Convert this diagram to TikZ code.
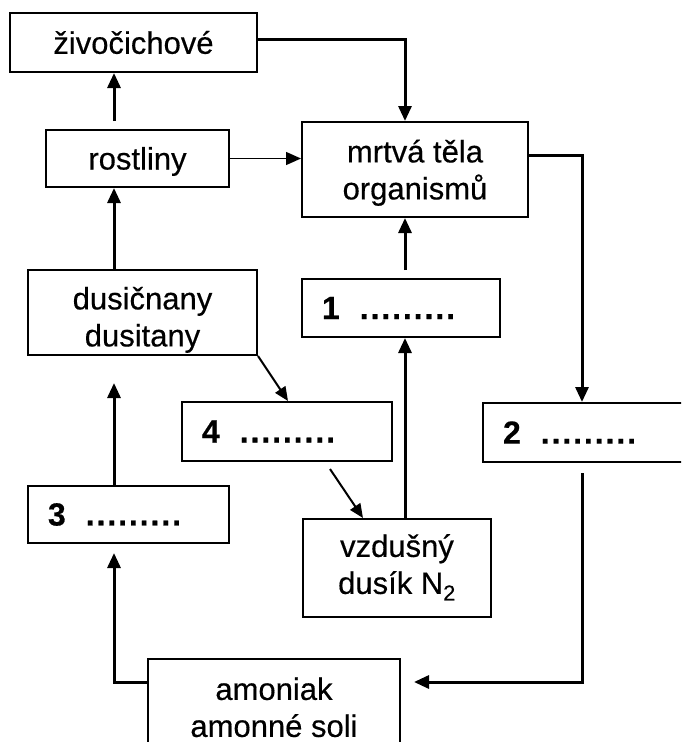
\documentclass[tikz,border=0pt]{standalone}
\usepackage{fontspec}
\setmainfont{Liberation Sans}[FakeBold=0.4]
\usetikzlibrary{arrows.meta,calc}
\newcommand{\blankdots}{.\kern1.9pt.\kern1.9pt.\kern1.9pt.\kern1.9pt.\kern1.9pt.\kern1.9pt.\kern1.9pt.\kern1.9pt.}
\newcommand{\twolines}[3]{\raisebox{#1}[\height][\depth]{\begin{tabular}{@{}c@{}}#2\\#3\end{tabular}}}
\begin{document}
\begin{tikzpicture}[x=1pt,y=-1pt,
  box/.style={draw,line width=2pt,rectangle,inner sep=0pt,align=center,
    font=\fontsize{31}{37}\selectfont},
  numbox/.style={draw,line width=2pt,rectangle,inner ysep=0pt,inner xsep=20pt,align=left,
    font=\fontsize{32}{37}\selectfont\bfseries},
  conn/.style={line width=3pt,-{Triangle[length=15pt,width=13pt]}},
  thinconn/.style={line width=1.4pt,-{Triangle[length=15pt,width=13pt]}},
  diag/.style={line width=2pt,-{Triangle[length=14pt,width=12pt]}},
]
\useasboundingbox (0,0) rectangle (681,742);
\clip (0,0) rectangle (681,742);
\fill[white] (0,0) rectangle (681,742);

% boxes
\node[box,minimum width=247pt,minimum height=59pt] (ziv) at (133.5,42.5) {živočichové};
\node[box,minimum width=183pt,minimum height=57pt] (rost) at (137.5,158.5) {\raisebox{-3pt}[\height][\depth]{rostliny}};
\node[box,minimum width=226pt,minimum height=95pt] (mrtva) at (415,169.5) {\twolines{-4pt}{mrtvá těla}{organismů}};
\node[box,minimum width=229pt,minimum height=85pt] (dus) at (142.5,312.5) {\twolines{-8pt}{dusičnany}{dusitany}};
\node[numbox,text width=158pt,minimum height=58pt] (one) at (401,308) {1\hspace{20pt}\blankdots};
\node[numbox,text width=170pt,minimum height=59pt] (four) at (287,431.5) {4\hspace{20pt}\blankdots};
\node[numbox,text width=180pt,minimum height=59pt] (two) at (593,432.5) {2\hspace{20pt}\blankdots};
\node[numbox,text width=161pt,minimum height=57pt] (three) at (128.5,514.5) {3\hspace{20pt}\blankdots};
\node[box,minimum width=188pt,minimum height=98pt] (vzd) at (397,568) {\twolines{0pt}{vzdušný}{dusík N\textsubscript{2}}};
\node[box,minimum width=252pt,minimum height=104pt] (amon) at (274,711) {\twolines{0pt}{amoniak}{amonné soli}};

% guide coordinates
\coordinate (colL) at (114,0);
\coordinate (colM) at (405,0);
\coordinate (colR) at (582,0);
\coordinate (rowT) at (0,39);
\coordinate (rowM) at (0,155);
\coordinate (rowB) at (0,682);

% connectors
\draw[conn] (ziv.east |- rowT) -| (mrtva.north -| colM);
\draw[conn,shorten <=8pt] (rost.north -| colL) -- (ziv.south -| colL);
\draw[thinconn] (rost.east) -- (rost.east -| mrtva.west);
\draw[conn] (dus.north -| colL) -- (rost.south -| colL);
\draw[conn] (mrtva.east |- rowM) -| (two.north -| colR);
\draw[conn,shorten <=8pt] (one.north -| colM) -- (mrtva.south -| colM);
\draw[conn] (vzd.north -| colM) -- (one.south -| colM);
\draw[diag] (dus.south east) -- ([xshift=1pt]four.north);
\draw[diag] ([xshift=43pt,yshift=-7pt]four.south) -- ([xshift=-34pt]vzd.north);
\draw[conn,shorten <=10pt,shorten >=13pt] (two.south -| colR) |- (amon.east |- rowB);
\draw[conn,shorten >=9pt] (amon.west |- rowB) -| (three.south -| colL);
\draw[conn,shorten >=27pt] (three.north -| colL) -- (dus.south -| colL);
\end{tikzpicture}
\end{document}
